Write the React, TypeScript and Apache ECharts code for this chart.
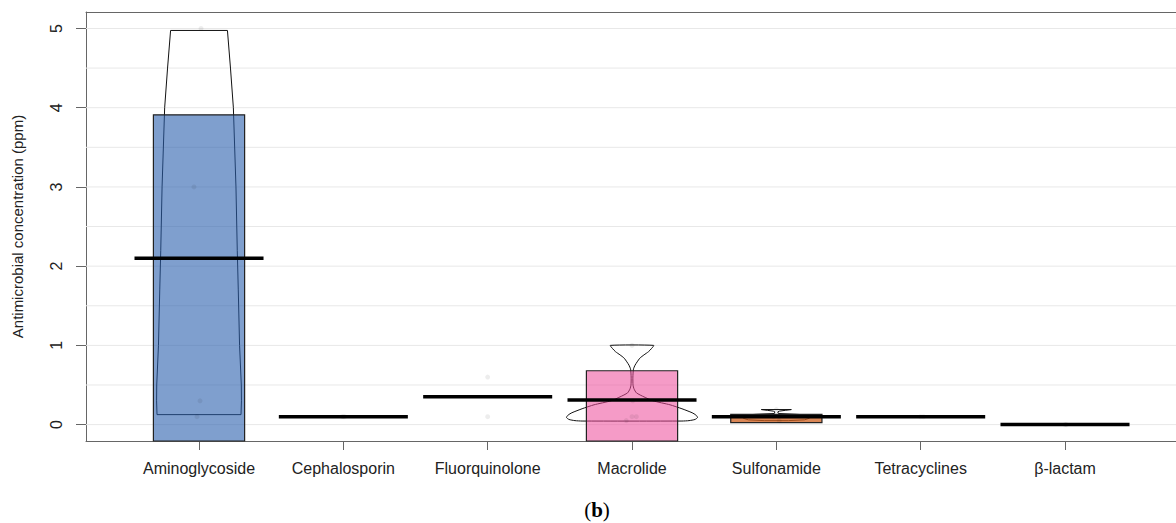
import React, { useEffect, useRef } from "react";
import * as echarts from "echarts";

// ---------- data ----------
const categories = ["Aminoglycoside", "Cephalosporin", "Fluorquinolone", "Macrolide", "Sulfonamide", "Tetracyclines", "β-lactam"];
const categoryPositions = [1, 2, 3, 4, 5, 6, 7];
const yTicks = [0, 1, 2, 3, 4, 5];
const gridValues = [0, 0.5, 1, 1.5, 2, 2.5, 3, 3.5, 4, 4.5, 5];

// average lines
const means = [2.1, 0.1, 0.35, 0.31, 0.1, 0.1, 0.0];

// inference bands (low, high); low below axis is clipped
const bandCategory = [1, 4, 5];
const bandLow = [-1, -1, 0.025];
const bandHigh = [3.91, 0.68, 0.13];
const bandColors = ["rgba(41,95,173,0.6)", "rgba(236,72,153,0.55)", "rgba(205,95,30,0.75)"];

// raw points (x with jitter, y)
const pointX = [1.014, 0.965, 1.007, 0.986, 1.99, 2.01, 2.0, 3.0, 3.0, 4.0, 4.0, 4.03, 3.96, 4.005, 5.0, 4.98, 5.02, 6.0, 6.02, 7.0, 7.01];
const pointY = [5.0, 3.0, 0.3, 0.1, 0.1, 0.1, 0.1, 0.6, 0.1, 1.0, 0.1, 0.1, 0.05, 0.3, 0.19, 0.1, 0.05, 0.1, 0.1, 0.0, 0.0];

// beans (density outlines): value levels and half-widths (x units)
const aminoBeanY = [4.975, 4.5, 4.0, 3.0, 2.2, 1.7, 1.0, 0.5, 0.3, 0.126];
const aminoBeanHalf = [0.197, 0.218, 0.238, 0.256, 0.265, 0.272, 0.281, 0.293, 0.294, 0.291];
const macroBeanY = [1.0, 0.96, 0.92, 0.88, 0.84, 0.79, 0.75, 0.7, 0.6, 0.5, 0.45, 0.4, 0.35, 0.3, 0.25, 0.2, 0.15, 0.12, 0.09, 0.065, 0.05, 0.045];
const macroBeanHalf = [0.15, 0.135, 0.114, 0.083, 0.055, 0.035, 0.021, 0.01, 0.006, 0.007, 0.014, 0.031, 0.083, 0.146, 0.263, 0.346, 0.416, 0.443, 0.454, 0.437, 0.395, 0.346];
const sulfaBeanY = [0.19, 0.18, 0.17, 0.16, 0.14, 0.13, 0.12, 0.08, 0.06, 0.05];
const sulfaBeanHalf = [0.104, 0.062, 0.021, 0.01, 0.014, 0.139, 0.229, 0.229, 0.194, 0.083];
const beanCategory = [1, 4, 5];
const beanSmooth = [0, 0.2, 0];

const beans = [
  { cat: beanCategory[0], y: aminoBeanY, half: aminoBeanHalf },
  { cat: beanCategory[1], y: macroBeanY, half: macroBeanHalf },
  { cat: beanCategory[2], y: sulfaBeanY, half: sulfaBeanHalf },
];

const FONT = "'Liberation Sans', Arial, Helvetica, sans-serif";
const SERIF = "'Liberation Serif', 'DejaVu Serif', serif";

export default function App() {
  const ref = useRef<HTMLDivElement>(null);

  useEffect(() => {
    if (!ref.current) return;
    const chart = echarts.init(ref.current, undefined, { renderer: "svg" });
    const xMin = 0.217;
    const xMax = 7.769;

    const option: any = {
      animation: false,
      backgroundColor: "#ffffff",
      grid: { left: 86, right: 0, top: 12, bottom: 82, containLabel: false },
      xAxis: [
        {
          type: "value",
          min: xMin,
          max: xMax,
          position: "bottom",
          axisLine: { show: true, onZero: false, lineStyle: { color: "#666", width: 1 } },
          axisTick: { show: true, customValues: categoryPositions, length: 9, lineStyle: { color: "#666" } },
          axisLabel: {
            customValues: categoryPositions,
            formatter: (v: number) => categories[Math.round(v) - 1] ?? "",
            margin: 19,
            fontSize: 16,
            fontFamily: FONT,
            color: "#222",
          },
          splitLine: { show: false },
        },
        {
          type: "value",
          min: xMin,
          max: xMax,
          position: "top",
          axisLine: { show: true, onZero: false, lineStyle: { color: "#666", width: 1 } },
          axisTick: { show: false },
          axisLabel: { show: false },
          splitLine: { show: false },
        },
      ],
      yAxis: {
        type: "value",
        min: -0.207,
        max: 5.208,
        axisLine: { show: true, onZero: false, lineStyle: { color: "#666", width: 1 } },
        axisTick: { show: true, customValues: yTicks, length: 10, lineStyle: { color: "#666" } },
        axisLabel: {
          customValues: yTicks,
          rotate: 90,
          margin: 22,
          fontSize: 16,
          fontFamily: FONT,
          color: "#222",
        },
        splitLine: { show: false },
        name: "Antimicrobial concentration (ppm)",
        nameLocation: "middle",
        nameRotate: 90,
        nameGap: 61,
        nameTextStyle: { fontSize: 15, fontFamily: FONT, color: "#222" },
      },
      series: [
        {
          type: "custom",
          name: "grid",
          silent: true,
          data: gridValues.map((v) => [1, v]),
          renderItem: (params: any, api: any) => {
            const cs = params.coordSys;
            const y = api.coord([1, api.value(1)])[1];
            return {
              type: "line",
              shape: { x1: cs.x, y1: y, x2: cs.x + cs.width, y2: y },
              style: { stroke: "#e8e8e8", lineWidth: 1 },
            };
          },
        },
        {
          type: "scatter",
          name: "points",
          silent: true,
          symbolSize: 5,
          itemStyle: { color: "rgba(0,0,0,0.09)" },
          data: pointX.map((x, i) => [x, pointY[i]]),
        },
        {
          type: "custom",
          name: "beans",
          silent: true,
          data: beans.map((b) => [b.cat, b.y[0]]),
          renderItem: (params: any, api: any) => {
            const b = beans[params.dataIndex];
            const pts: number[][] = [];
            for (let i = 0; i < b.y.length; i++) pts.push(api.coord([b.cat + b.half[i], b.y[i]]));
            for (let i = b.y.length - 1; i >= 0; i--) pts.push(api.coord([b.cat - b.half[i], b.y[i]]));
            return {
              type: "polygon",
              shape: { points: pts, smooth: beanSmooth[params.dataIndex] },
              style: { fill: "none", stroke: "#111", lineWidth: 1 },
            };
          },
        },
        {
          type: "custom",
          name: "bands",
          silent: true,
          data: bandCategory.map((c, i) => [c, bandLow[i], bandHigh[i]]),
          renderItem: (params: any, api: any) => {
            const cs = params.coordSys;
            const c = api.value(0);
            const p1 = api.coord([c - 0.316, api.value(2)]);
            const p2 = api.coord([c + 0.316, api.value(1)]);
            const top = Math.max(cs.y, p1[1]);
            const bottom = Math.min(cs.y + cs.height, p2[1]);
            return {
              type: "rect",
              shape: { x: p1[0], y: top, width: p2[0] - p1[0], height: bottom - top },
              style: { fill: bandColors[params.dataIndex], stroke: "#222", lineWidth: 1.2 },
            };
          },
        },
        {
          type: "custom",
          name: "averages",
          silent: true,
          data: categoryPositions.map((c, i) => [c, means[i]]),
          renderItem: (params: any, api: any) => {
            const c = api.value(0);
            const m = api.value(1);
            const a = api.coord([c - 0.447, m]);
            const b = api.coord([c + 0.447, m]);
            return {
              type: "line",
              shape: { x1: a[0], y1: a[1], x2: b[0], y2: b[1] },
              style: { stroke: "#000", lineWidth: 3.5 },
            };
          },
        },
      ],
      graphic: [
        {
          type: "text",
          x: 597,
          y: 510,
          style: {
            text: "{p|(}{b|b}{p|)}",
            rich: {
              p: { fontFamily: SERIF, fontSize: 21, color: "#000" },
              b: { fontFamily: SERIF, fontSize: 21, fontWeight: "bold", color: "#000" },
            },
            align: "center",
            verticalAlign: "middle",
          },
        },
      ],
    };

    chart.setOption(option);
    return () => chart.dispose();
  }, []);

  return (
    <div
      ref={ref}
      style={{ position: "absolute", left: 0, top: 0, width: 1176, height: 523, background: "#fff" }}
    />
  );
}
